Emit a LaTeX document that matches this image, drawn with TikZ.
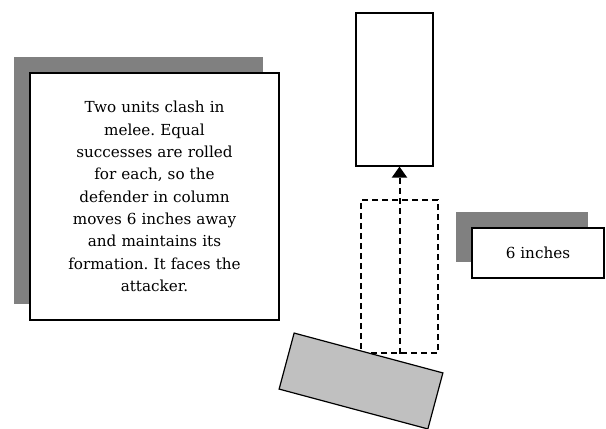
\documentclass[tikz,border=0pt]{standalone}
\usepackage{fontspec}
\setmainfont{DejaVu Serif}
\usetikzlibrary{arrows.meta,shadows}
\frenchspacing

\definecolor{shadegray}{HTML}{808080}
\definecolor{unitgray}{HTML}{C0C0C0}

\tikzset{
    notebox/.style={draw, fill=white, line width=1.2pt, inner sep=0pt, align=center,
        drop shadow={shadow xshift=-16pt, shadow yshift=16pt, fill=shadegray, opacity=1}},
    unitbox/.style={draw, line width=1.2pt, inner sep=0pt, minimum width=77pt, minimum height=153pt},
    oldpos/.style={unitbox, dashed, dash pattern=on 6pt off 4pt},
}

\begin{document}
\begin{tikzpicture}[x=1pt, y=-1pt, font=\fontsize{15.2}{22.3}\selectfont]
    	% Frame, notes and units:
    	\useasboundingbox (0, 0) rectangle (606, 429);
    	\draw node[notebox, minimum width=249pt, minimum height=247pt, text width=215pt] (Note) at (154.5, 196.5)
    	    {Two units clash in\\ melee. Equal\\ successes are rolled\\ for each, so the\\ defender in column\\ moves 6 inches away\\ and maintains its\\ formation. It faces the\\ attacker.\\[3pt]};
    	\draw node[notebox, minimum width=132pt, minimum height=50pt] (Dist) at (538, 253) {6 inches};
    	\draw node[unitbox] (Def) at (394.5, 89.5) {};
    	\draw node[oldpos] (Old) at (399.5, 276.5) {};
    	\draw node[unitbox, fill=unitgray, minimum width=154pt, minimum height=58pt, rotate=-15] (Att) at (361, 381) {};
    	\draw[line width=2pt, dash pattern=on 6pt off 4pt, -{Triangle[width=15pt, length=11pt]}] (Old.south) -- (Old.south |- Def.south);
    \end{tikzpicture}
\end{document}
